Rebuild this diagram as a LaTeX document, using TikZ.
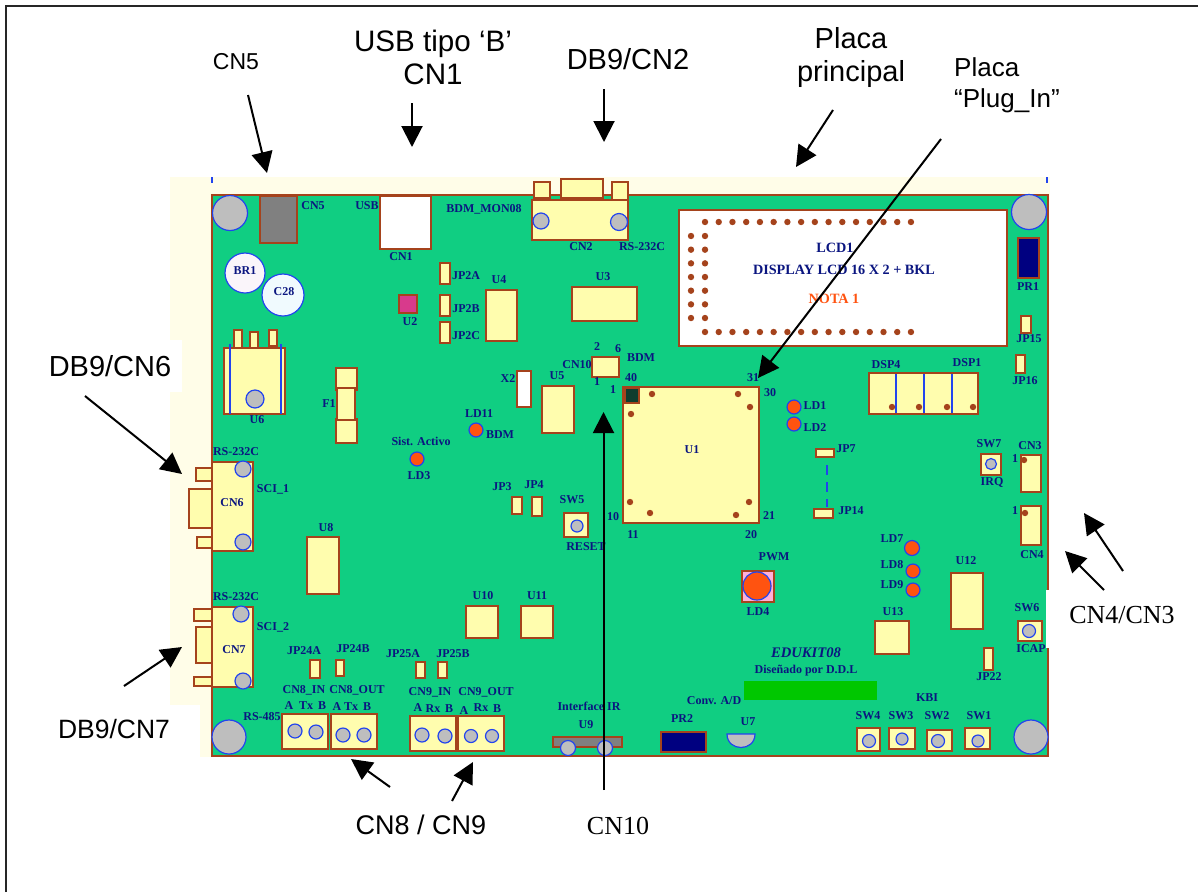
\documentclass[tikz,border=0pt]{standalone}
\usepackage{fontspec}
\setmainfont{Liberation Serif}
\newfontfamily\arialfont{Liberation Sans}
\usetikzlibrary{arrows.meta}
\definecolor{boardgreen}{HTML}{10CE82}
\definecolor{creamback}{HTML}{FFFDE8}
\definecolor{partyellow}{HTML}{FFFDAE}
\definecolor{partbrown}{HTML}{A5431C}
\definecolor{screwblue}{HTML}{2244EE}
\definecolor{screwgray}{HTML}{BEBEBE}
\definecolor{ledorange}{HTML}{FF5310}
\definecolor{labelnavy}{HTML}{0A1580}
\begin{document}
\begin{tikzpicture}
[x=1pt,y=-1pt,
 partdecorate/.style={shape=rectangle,inner sep=0pt,outer sep=0pt,draw=partbrown,line width=1.7pt},%
 rounddecorate/.style={shape=circle,inner sep=0pt,outer sep=0pt,draw=screwblue,line width=1.2pt},%
 labeldecorate/.style={inner sep=0pt,text=labelnavy,font=\fontsize{12}{14}\bfseries},%
 calloutdecorate/.style={inner sep=0pt,align=center,font=\fontsize{29}{33}\arialfont},%
 arrowdecorate/.style={-{Triangle[length=21pt,width=21pt]},line width=2pt}]
\useasboundingbox (0,0) rectangle (1198,892);
%% page frame and board
\draw[line width=1.6pt,black!85] (6,892) -- (6,6) -- (1198,6);
\fill[creamback] (170,177) rectangle (1050,200);
\fill[creamback] (170,177) rectangle (214,705);
\fill[creamback] (200,700) rectangle (214,757);
\fill[white] (170,340) rectangle (182,392);
\node (board) at (630,475.5) [partdecorate,fill=boardgreen,minimum width=836pt,minimum height=561pt] {};
\fill[white] (1046,590) rectangle (1060,648);
\fill[screwblue] (211,177) rectangle (213,183);
\fill[screwblue] (1046,177) rectangle (1048,183);
%% yellow parts
\foreach \nodename/\xa/\ya/\xb/\yb in {
  CNtwoEarA/534/182/550/198, CNtwoEarB/561/179/603/198, CNtwoEarC/612/182/628/200, CNtwo/532/200/628/240,
  JPtwoA/440/263/450/284, JPtwoB/440/295/450/316, JPtwoC/440/322/450/343,
  Ufour/486/290/517/341, Uthree/572/287/637/321, Ufive/542/386/574/433,
  UsixPinA/234/330/242/348, UsixPinB/250/332/258/348, UsixPinC/269/330/277/346, Usix/224/348/285/414,
  FoneA/336/368/357/390, FoneC/336/419/357/443, FoneB/337/388/355/420,
  CNten/592/357/619/377, Uone/623/387/759/523,
  JPfifteen/1021/316/1031/333, JPsixteen/1016/355/1025/373, DSP/869/373/978/414,
  JPseven/816/449/834/457, JPfourteen/814/509/833/518,
  SWseven/981/454/1001/475, CNthree/1021/455/1041/492, CNfour/1021/506/1041/545,
  Utwelve/951/573/983/629, Uthirteen/875/621/909/654, SWsix/1018/621/1042/641, JPtwentytwo/984/648/993/670,
  SWfour/857/728/880/751, SWthree/889/728/915/749, SWtwo/927/730/952/751, SWone/965/728/990/749,
  CNsixEarA/196/468/212/481, CNsixEarB/189/489/212/528, CNsixEarC/197/537/213/548, CNsix/212/462/253/551,
  CNsevenEarA/194/609/212/621, CNsevenEarB/196/627/213/663, CNsevenEarC/194/677/212/686, CNseven/212/607/253/687,
  Ueight/307/537/339/594, Uten/466/606/498/638, Ueleven/521/606/553/638,
  JPthree/512/497/522/514, JPfour/532/497/542/516, SWfive/564/513/588/537,
  JPtwentyfourA/310/660/320/678, JPtwentyfourB/336/660/344/676, JPtwentyfiveA/416/662/425/678, JPtwentyfiveB/438/662/447/678,
  CNeightIn/282/714/328/749, CNeightOut/331/714/377/749, CNnineIn/410/716/456/751, CNnineOut/458/716/504/751}
{
  \node (\nodename) at ({(\xa+\xb)/2},{(\ya+\yb)/2}) [partdecorate,fill=partyellow,minimum width=\xb*1pt-\xa*1pt,minimum height=\yb*1pt-\ya*1pt] {};
}
%% parts in other colours
\foreach \nodename/\shade/\xa/\ya/\xb/\yb in {
  CNfive/black!50/260/196/297/243, CNone/white/380/196/431/249, Utwo/{rgb,255:red,216;green,58;blue,140}/399/295/417/313,
  Xtwo/white/517/371/531/407, LCDone/white/679/210/1007/346, PRone/{rgb,255:red,0;green,0;blue,128}/1018/238/1039/278,
  PRtwo/{rgb,255:red,0;green,0;blue,128}/661/732/706/752, Unine/black!50/553/737/622/747,
  BlackPad/{rgb,255:red,15;green,61;blue,46}/625/388/639/403, PWMbox/{rgb,255:red,255;green,176;blue,216}/742/571/774/602}
{
  \node (\nodename) at ({(\xa+\xb)/2},{(\ya+\yb)/2}) [partdecorate,fill=\shade,minimum width=\xb*1pt-\xa*1pt,minimum height=\yb*1pt-\ya*1pt] {};
}
\fill[green!78!black] (744,681) rectangle (877,700);
%% blue bars
\foreach \xa/\ya/\yb/\w in {230/344/414/2.8, 281/344/414/2.8, 896/374/413/2.8, 924/374/413/1.4, 952/374/413/2.8}
{
  \draw[screwblue,line width=\w pt] (\xa,\ya) -- (\xa,\yb);
}
\draw[screwblue,line width=1.2pt,dash pattern=on 10pt off 7pt] (827,465) -- (827,507);
%% holes, screws and leds
\foreach \nodename/\x/\y/\r in {
  HoleA/230/213/17.5, HoleB/1029/212/17.5, HoleC/229/737/17, HoleD/1031/737/17,
  ScrewA/541/221/8, ScrewB/619/222/8.5, ScrewC/255/399/9, ScrewD/243/469/8, ScrewE/243/542/8,
  ScrewF/241/614/8, ScrewG/243/681/8, ScrewH/991/464/5.5, ScrewI/1029/631/6.5,
  ScrewJ/869/741/6.5, ScrewK/902/739/6, ScrewL/938/741/6.5, ScrewM/978/741/6, ScrewN/577/526/6,
  ScrewO/295/731/7, ScrewP/316/732/7, ScrewQ/343/735/7, ScrewR/364/735/7,
  ScrewS/422/735/7, ScrewT/445/736/7, ScrewU/471/736/6.5, ScrewV/492/736/6.5, ScrewW/568/748/7.5, ScrewX/605/748/7.5}
{
  \node (\nodename) at (\x,\y) [rounddecorate,fill=screwgray,minimum size=2*\r*1pt] {};
}
\foreach \nodename/\x/\y/\r in {
  LDeleven/476/430/7, LDthree/417/459/7, LDone/794/407/7, LDtwo/794/424/7,
  LDseven/912/548/7.5, LDeight/913/571/7, LDnine/913/590/7, LDfour/757/586/14}
{
  \node (\nodename) at (\x,\y) [rounddecorate,fill=ledorange,minimum size=2*\r*1pt] {};
}
\node (BRone) at (245,273) [rounddecorate,fill=violet!4,minimum size=40pt] {};
\node (Ctwentyeight) at (283,295) [rounddecorate,fill=cyan!6,minimum size=42pt] {};
\draw[screwblue,line width=1.2pt,fill=screwgray] (727,734) -- (755,734) .. controls (755,752) and (727,752) .. (727,734) -- cycle;
%% solder dots
\foreach \i in {0,...,15}
{
  \fill[partbrown] (705+13.73*\i,222) circle (3.2);
  \fill[partbrown] (705+13.73*\i,332) circle (3.2);
}
\foreach \i in {0,...,6}
{
  \fill[partbrown] (691,236+13.67*\i) circle (3.2);
  \fill[partbrown] (705,236+13.67*\i) circle (3.2);
}
\foreach \x/\y in {652/394, 738/394, 750/407, 631/414, 630/502, 650/513, 736/515, 749/502,
  892/407, 919/407, 947/407, 973/407, 1024/460, 1025/513}
{
  \fill[partbrown] (\x,\y) circle (3.2);
}
%% labels on the board
\foreach \labeltext/\x/\y [count=\i] in {
  CN5/313/206, USB/367/206, CN1/401/257, BDM\_MON08/484/209, CN2/581/247, BR1/245/271, C28/284/292,
  JP2A/466/276, JP2B/466/309, JP2C/466/336, U4/499/280, U3/603/277, U2/410/322, U6/257/420, F1/329/404,
  X2/508/379, U5/557/376, CN10/577/365, 2/597/347, 1/597/382, LD11/479/414, BDM/500/435,
  Sist. Activo/421/441, RS-232C/236/452, RS-232C/642/247, 6/618/349, BDM/641/358, 40/631/378, 1/613/390,
  31/753/378, 30/770/393, U1/692/450, LD1/815/406, LD2/815/428, JP7/846/449, DSP4/886/365, DSP1/967/363,
  PR1/1028/287, JP15/1029/339, JP16/1025/381, SW7/989/444, CN3/1030/446, 1/1015/459,
  LD3/419/476, SCI\_1/273/489, CN6/232/503, JP3/502/487, JP4/534/485, SW5/572/500, RESET/586/547, U8/326/528,
  RS-232C/236/597, U10/483/596, U11/537/596, SCI\_2/273/627, CN7/234/650,
  JP24A/304/651, JP24B/353/649, JP25A/403/654, JP25B/453/654, CN8\_IN/304/690, CN8\_OUT/357/690,
  A/289/706, Tx/306/706, B/322/706, A/337/707, Tx/351/707, B/367/707,
  CN9\_IN/430/692, CN9\_OUT/486/692, A/418/708, Rx/433/709, B/449/709, A/464/711, Rx/481/708, B/497/709,
  RS-485/262/717, Interface IR/589/706, U9/586/725,
  10/613/517, 11/633/535, 20/751/535, 21/769/516, JP14/851/511, IRQ/992/482, 1/1015/511, CN4/1032/555,
  LD7/892/539, LD8/892/565, LD9/892/585, U12/966/561, PWM/774/557, LD4/758/612, U13/893/612,
  SW6/1027/608, ICAP/1031/649, JP22/989/677, Dise\~nado por D.D.L/806/671, {Conv. A/D}/714/701, KBI/927/698,
  SW4/868/716, SW3/901/716, SW2/937/716, SW1/979/716, PR2/682/719, U7/748/722}
{
  \node (lab\i) at (\x,\y) [labeldecorate] {\labeltext};
}
\node (labEdukit) at (806,653) [labeldecorate,font=\fontsize{14.6}{16}\bfseries\itshape] {EDUKIT08};
\node (labLcdOne) at (835,248) [labeldecorate,font=\fontsize{14.2}{16}\bfseries] {LCD1};
\node (labDisplay) at (844,270) [labeldecorate,font=\fontsize{14.2}{16}\bfseries] {DISPLAY LCD 16 X 2 + BKL};
\node (labNota) at (834,299) [labeldecorate,text=ledorange,font=\fontsize{14.2}{16}\bfseries] {NOTA 1};
%% callout texts
\node (txtCNfive) at (236,62) [calloutdecorate,font=\fontsize{23}{27}\arialfont] {CN5};
\node (txtUSB) at (433,57) [calloutdecorate,font=\fontsize{29.6}{33}\arialfont] {USB tipo ‘B’\\CN1};
\node (txtDBtwo) at (628,59) [calloutdecorate] {DB9/CN2};
\node (txtPrincipal) at (851,57) [calloutdecorate] {Placa\\principal};
\node (txtPlugIn) at (954,85) [calloutdecorate,anchor=west,align=left,font=\fontsize{26}{31}\arialfont] {Placa\\“Plug\_In”};
\node (txtDBsix) at (110,366) [calloutdecorate] {DB9/CN6};
\node (txtDBseven) at (114,729) [calloutdecorate,font=\fontsize{26.5}{31}\arialfont] {DB9/CN7};
\node (txtCNeight) at (421,825) [calloutdecorate,font=\fontsize{27}{31}\arialfont] {CN8 / CN9};
\node (txtCNten) at (618,826) [calloutdecorate,font=\fontsize{26}{31}\selectfont] {CN10};
\node (txtCNthree) at (1122,615) [calloutdecorate,font=\fontsize{26}{31}\selectfont] {CN4/CN3};
%% arrows
\foreach \startname/\xa/\ya/\endname/\xb/\yb in {
  aCNfive/248/95/bCNfive/267/173, aUSB/412/103/bUSB/412/147, aDBtwo/604/89/bDBtwo/604/142,
  aPrincipal/833/110/bPrincipal/796/167, aPlugIn/941/139/bPlugIn/758/378, aCNten/603.5/790/bCNten/603.5/412,
  aDBsix/85/396/bDBsix/182/474, aDBseven/124/686/bDBseven/182/647, aCNeight/390/787/bCNeight/351/759,
  aCNnine/452/801/bCNnine/473/762, aCNthree/1123/571/bCNthree/1084/513, aCNfour/1104/590/bCNfour/1065/551}
{
  \coordinate (\startname) at (\xa,\ya);
  \coordinate (\endname) at (\xb,\yb);
  \draw[arrowdecorate] (\startname) -- (\endname);
}
\end{tikzpicture}
\end{document}
